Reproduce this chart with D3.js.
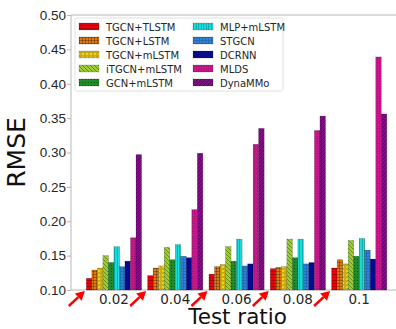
<!DOCTYPE html>
<html>
<head>
<meta charset="utf-8">
<script src="https://cdn.jsdelivr.net/npm/d3@7"></script>
<style>
  body { margin: 0; background: #fff; }
  svg { font-family: "DejaVu Sans", sans-serif; display: block; }
</style>
</head>
<body>
<div id="chart"></div>
<script>
// data
const ratios = ["0.02", "0.04", "0.06", "0.08", "0.1"];
const models = ["TGCN+TLSTM", "TGCN+LSTM", "TGCN+mLSTM", "iTGCN+mLSTM", "GCN+mLSTM",
                "MLP+mLSTM", "STGCN", "DCRNN", "MLDS", "DynaMMo"];
const tgcnTlstm = [0.117, 0.121, 0.123, 0.131, 0.132];
const tgcnLstm  = [0.129, 0.132, 0.134, 0.133, 0.144];
const tgcnMlstm = [0.132, 0.135, 0.137, 0.134, 0.138];
const itgcnMlstm = [0.150, 0.162, 0.163, 0.174, 0.172];
const gcnMlstm  = [0.140, 0.144, 0.142, 0.147, 0.149];
const mlpMlstm  = [0.163, 0.166, 0.174, 0.174, 0.175];
const stgcn     = [0.134, 0.149, 0.135, 0.138, 0.158];
const dcrnn     = [0.142, 0.147, 0.138, 0.140, 0.145];
const mlds      = [0.176, 0.217, 0.312, 0.332, 0.439];
const dynammo   = [0.297, 0.299, 0.335, 0.353, 0.356];
const yTicks = [0.10, 0.15, 0.20, 0.25, 0.30, 0.35, 0.40, 0.45, 0.50];

const series = [tgcnTlstm, tgcnLstm, tgcnMlstm, itgcnMlstm, gcnMlstm,
                mlpMlstm, stgcn, dcrnn, mlds, dynammo];
const colors = ["#e8000b", "#e07a10", "#f2d21a", "#9acd32", "#1f8b2a",
                "#18e0e0", "#2f86e0", "#0a0a8c", "#c8178a", "#7f0f84"];
const hatches = ["hline", "grid", "circle", "back", "dots",
                 "vline", "sdots", null, "dots2", "fwd"];

const margin = { top: 15, right: 0, bottom: 39, left: 71 },
    width = 396 - margin.left - margin.right,
    height = 329 - margin.top - margin.bottom;

const root = d3.select("#chart").append("svg")
    .attr("width", 396).attr("height", 329);
root.append("rect").attr("width", 396).attr("height", 329).attr("fill", "#fff");

// hatch patterns
const defs = root.append("defs");
const hc = "rgba(0,0,0,0.45)";
function pat(id, size, draw) {
  const p = defs.append("pattern").attr("id", id)
      .attr("patternUnits", "userSpaceOnUse")
      .attr("width", size).attr("height", size);
  draw(p);
}
pat("hline", 3, p => p.append("path").attr("d", "M0,1.5H3").attr("stroke", hc).attr("stroke-width", 0.6));
pat("vline", 2.5, p => p.append("path").attr("d", "M1.25,0V2.5").attr("stroke", hc).attr("stroke-width", 0.6));
pat("grid", 3, p => p.append("path").attr("d", "M0,1.5H3M1.5,0V3").attr("stroke", hc).attr("stroke-width", 0.6));
pat("circle", 4, p => p.append("circle").attr("cx", 2).attr("cy", 2).attr("r", 1.3)
    .attr("fill", "none").attr("stroke", hc).attr("stroke-width", 0.6));
pat("back", 4, p => p.append("path").attr("d", "M-1,-1L5,5M-1,3L1,5M3,-1L5,1").attr("stroke", hc).attr("stroke-width", 0.7));
pat("fwd", 4, p => p.append("path").attr("d", "M-1,5L5,-1M-1,1L1,-1M3,5L5,3").attr("stroke", hc).attr("stroke-width", 0.7));
pat("dots", 3, p => p.append("circle").attr("cx", 1.5).attr("cy", 1.5).attr("r", 0.6).attr("fill", hc));
pat("sdots", 3, p => p.append("circle").attr("cx", 1.5).attr("cy", 1.5).attr("r", 0.8)
    .attr("fill", "none").attr("stroke", hc).attr("stroke-width", 0.5));
pat("dots2", 2.5, p => p.append("circle").attr("cx", 1.25).attr("cy", 1.25).attr("r", 0.45).attr("fill", hc));

const svg = root.append("g").attr("transform", `translate(${margin.left}, ${margin.top})`);

// scales
const x = d3.scaleLinear().domain([-0.7, 4.6]).range([0, width]);
const y = d3.scaleLinear().domain([0.1, 0.5]).range([height, 0]);
const barW = x(0.09) - x(0);

// frame
svg.append("path")
    .attr("d", `M0,0H${width}M0,0V${height}H${width}`)
    .attr("fill", "none").attr("stroke", "#b8b8b8").attr("stroke-width", 1);

// y axis
const yAxis = svg.append("g")
    .call(d3.axisLeft(y).tickValues(yTicks).tickFormat(d3.format(".2f")).tickSize(4));
yAxis.select(".domain").remove();
yAxis.selectAll("line").attr("stroke", "#b8b8b8");
yAxis.selectAll("text").style("font-size", "13.5px").attr("fill", "#262626").attr("x", -5);

// x labels
svg.selectAll(".xlab")
    .data(ratios)
    .join("text")
    .attr("x", (d, i) => x(i))
    .attr("y", height + 14)
    .attr("text-anchor", "middle")
    .style("font-size", "13.5px")
    .attr("fill", "#262626")
    .text(d => d);

// bars
series.forEach((vals, s) => {
  const g = svg.append("g");
  const rects = vals.map((v, i) => ({ v, i }));
  g.selectAll("rect.base")
      .data(rects)
      .join("rect")
      .attr("x", d => x(d.i - 0.45 + 0.09 * s))
      .attr("y", d => y(d.v))
      .attr("width", barW)
      .attr("height", d => height - y(d.v))
      .attr("fill", colors[s]);
  if (hatches[s]) {
    g.selectAll("rect.hatch")
        .data(rects)
        .join("rect")
        .attr("x", d => x(d.i - 0.45 + 0.09 * s))
        .attr("y", d => y(d.v))
        .attr("width", barW)
        .attr("height", d => height - y(d.v))
        .attr("fill", `url(#${hatches[s]})`);
  }
  g.selectAll("rect.edge")
      .data(rects)
      .join("rect")
      .attr("x", d => x(d.i - 0.45 + 0.09 * s))
      .attr("y", d => y(d.v))
      .attr("width", barW)
      .attr("height", d => height - y(d.v))
      .attr("fill", "none")
      .attr("stroke", "rgba(0,0,0,0.35)")
      .attr("stroke-width", 0.5);
});

// red arrows pointing at the first bar of each group
ratios.forEach((r, i) => {
  const tx = x(i - 0.45) - 1.5, ty = height + 1;
  const fx = tx - 16, fy = ty + 15;
  const ang = Math.atan2(ty - fy, tx - fx);
  const L = 9, W = 5;
  const bx = tx - L * Math.cos(ang), by = ty - L * Math.sin(ang);
  svg.append("line")
      .attr("x1", fx).attr("y1", fy).attr("x2", bx).attr("y2", by)
      .attr("stroke", "#f00").attr("stroke-width", 2.5);
  svg.append("path")
      .attr("d", `M${tx},${ty}L${bx - W * Math.sin(ang)},${by + W * Math.cos(ang)}L${bx + W * Math.sin(ang)},${by - W * Math.cos(ang)}Z`)
      .attr("fill", "#f00");
});

// axis titles
svg.append("text")
    .attr("transform", `translate(-46, ${height / 2}) rotate(-90)`)
    .attr("text-anchor", "middle")
    .style("font-size", "25px")
    .attr("fill", "#111")
    .text("RMSE");
svg.append("text")
    .attr("x", x(2) + 1)
    .attr("y", height + 34)
    .attr("text-anchor", "middle")
    .style("font-size", "21.5px")
    .attr("fill", "#111")
    .text("Test ratio");

// legend
const leg = root.append("g").attr("transform", "translate(75, 18)");
leg.append("rect")
    .attr("width", 208).attr("height", 73).attr("rx", 2)
    .attr("fill", "#fff").attr("stroke", "#d8d8d8").attr("stroke-width", 0.8);
models.forEach((m, s) => {
  const col = Math.floor(s / 5), row = s % 5;
  const gx = 4 + col * 114, gy = 5 + row * 14;
  leg.append("rect").attr("x", gx).attr("y", gy).attr("width", 20).attr("height", 7)
      .attr("fill", colors[s]);
  if (hatches[s]) {
    leg.append("rect").attr("x", gx).attr("y", gy).attr("width", 20).attr("height", 7)
        .attr("fill", `url(#${hatches[s]})`);
  }
  leg.append("rect").attr("x", gx).attr("y", gy).attr("width", 20).attr("height", 7)
      .attr("fill", "none").attr("stroke", "rgba(0,0,0,0.3)").attr("stroke-width", 0.5);
  leg.append("text")
      .attr("x", gx + 27).attr("y", gy + 7.5)
      .style("font-size", "10px")
      .attr("fill", "#262626")
      .text(m);
});
</script>
</body>
</html>
